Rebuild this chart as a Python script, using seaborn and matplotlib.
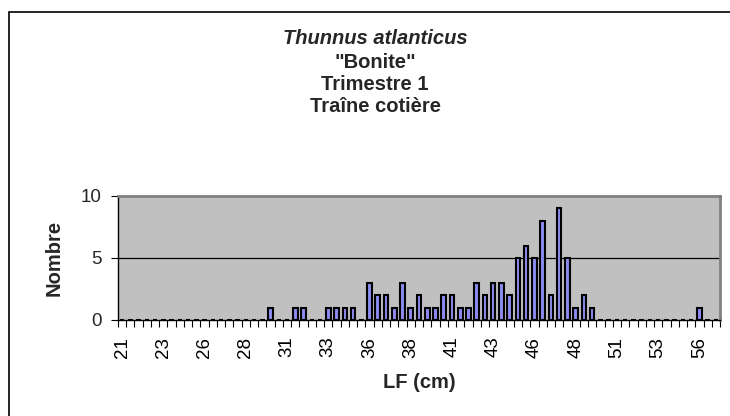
import matplotlib
matplotlib.use("Agg")
import matplotlib.pyplot as plt
from matplotlib.patches import Rectangle
import pandas as pd
import seaborn as sns

# Length classes (LF, cm), 0.5 cm steps
lengths = [21.0, 21.5, 22.0, 22.5, 23.0, 23.5, 24.0, 24.5, 25.0, 25.5,
           26.0, 26.5, 27.0, 27.5, 28.0, 28.5, 29.0, 29.5, 30.0, 30.5,
           31.0, 31.5, 32.0, 32.5, 33.0, 33.5, 34.0, 34.5, 35.0, 35.5,
           36.0, 36.5, 37.0, 37.5, 38.0, 38.5, 39.0, 39.5, 40.0, 40.5,
           41.0, 41.5, 42.0, 42.5, 43.0, 43.5, 44.0, 44.5, 45.0, 45.5,
           46.0, 46.5, 47.0, 47.5, 48.0, 48.5, 49.0, 49.5, 50.0, 50.5,
           51.0, 51.5, 52.0, 52.5, 53.0, 53.5, 54.0, 54.5, 55.0, 55.5,
           56.0, 56.5, 57.0]

# Number of fish per class
counts = [0, 0, 0, 0, 0, 0, 0, 0, 0, 0,
          0, 0, 0, 0, 0, 0, 0, 0, 1, 0,
          0, 1, 1, 0, 0, 1, 1, 1, 1, 0,
          3, 2, 2, 1, 3, 1, 2, 1, 1, 2,
          2, 1, 1, 3, 2, 3, 3, 2, 5, 6,
          5, 8, 2, 9, 5, 1, 2, 1, 0, 0,
          0, 0, 0, 0, 0, 0, 0, 0, 0, 0,
          1, 0, 0]

# Labels shown every 5 classes
tick_labels = ["21", "23", "26", "28", "31", "33", "36", "38",
               "41", "43", "46", "48", "51", "53", "56"]

title_lines = ["Thunnus atlanticus", '"Bonite"', "Trimestre 1", "Traîne cotière"]

sns.set_theme(style="white")
plt.rcParams["font.family"] = ["Liberation Sans", "DejaVu Sans"]

df = pd.DataFrame({"LF": [str(v) for v in lengths], "Nombre": counts})

fig = plt.figure(figsize=(7.3, 4.16), dpi=100)
fig.patch.set_facecolor("white")
ax = fig.add_axes([118 / 730, 96 / 416, 602 / 730, 124 / 416])
ax.set_facecolor("#C0C0C0")

sns.barplot(data=df, x="LF", y="Nombre", order=df["LF"], color="#8C8CF0",
            saturation=1, width=0.55, edgecolor="black", linewidth=1.5, ax=ax)

ax.set_xlim(-0.5, len(lengths) - 0.5)
ax.set_ylim(0, 10)
ax.axhline(5, color="black", lw=0.9, zorder=0.5)

# category labels every 5 classes, tick marks between classes
ax.set_xticks(range(0, len(lengths), 5))
ax.set_xticklabels(tick_labels, rotation=90, fontsize=13.5)
ax.set_xticks([i - 0.5 for i in range(len(lengths) + 1)], minor=True)
ax.tick_params(axis="x", which="major", length=0, pad=12, colors="black")
ax.tick_params(axis="x", which="minor", length=5, width=0.8, direction="out",
               color="black", bottom=True)
ax.set_yticks([0, 5, 10])
ax.tick_params(axis="y", length=5, width=0.8, direction="out", color="black",
               left=True, labelsize=13.5, pad=7)

for side in ["left", "bottom"]:
    ax.spines[side].set_color("black")
    ax.spines[side].set_linewidth(1.0)
for side in ["top", "right"]:
    ax.spines[side].set_color("#808080")
    ax.spines[side].set_linewidth(2.0)

ax.set_xlabel("LF (cm)", fontsize=14.5, fontweight="bold", va="center")
ax.xaxis.set_label_coords(0.5, (320 - 382) / 124)
ax.set_ylabel("Nombre", fontsize=14.5, fontweight="bold", va="center")
ax.yaxis.set_label_coords((54 - 118) / 602, 0.5)

# Title block
ys = [416 - 39, 416 - 62, 416 - 84, 416 - 106]
for i, (txt, y) in enumerate(zip(title_lines, ys)):
    fig.text(375 / 730, y / 416, txt, ha="center", va="center", fontsize=14.5,
             fontweight="bold", style="italic" if i == 0 else "normal")

# Chart area border (cropped at right and bottom)
fig.add_artist(Rectangle((9 / 730, -0.2), 1.2, 0.2 + 404 / 416,
                         transform=fig.transFigure, fill=False,
                         edgecolor="black", lw=1.2))

fig.savefig("out.png", dpi=100)
